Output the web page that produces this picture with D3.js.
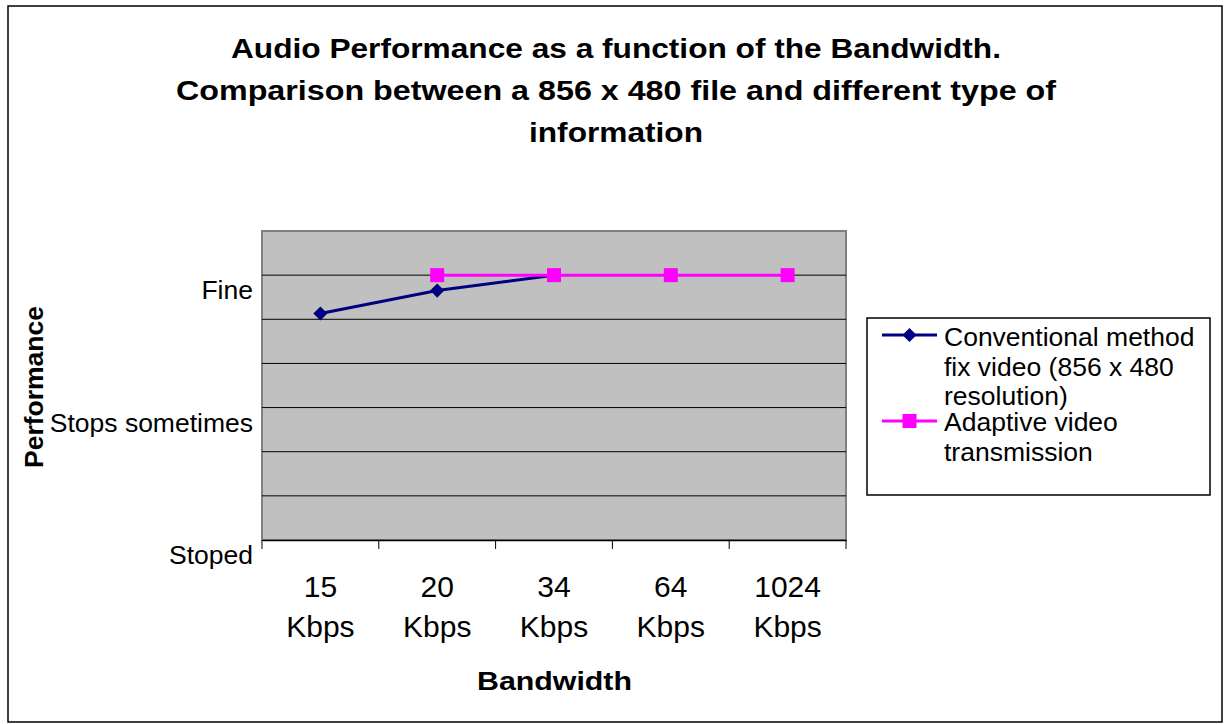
<!DOCTYPE html>
<html>
<head>
<meta charset="utf-8">
<script src="https://cdn.jsdelivr.net/npm/d3@7"></script>
<style>
  html, body { margin: 0; padding: 0; background: #fff; }
  svg { display: block; font-family: "Liberation Sans", Arial, sans-serif; }
</style>
</head>
<body>
<svg id="chart" width="1225" height="724"></svg>
<script>
// Bandwidth categories along the x axis (two-line labels)
const categories = ["15 Kbps", "20 Kbps", "34 Kbps", "64 Kbps", "1024 Kbps"];
// Performance level per category (0 = Stoped, 3 = Stops sometimes, 6 = Fine)
const conventional = [5.13, 5.65, 6, null, null];
const adaptive = [null, 6, 6, 6, 6];
// Qualitative labels on the value axis
const yTickValues = [0, 3, 6];
const yTickLabels = ["Stoped", "Stops sometimes", "Fine"];
const titleLines = [
  "Audio Performance as a function of the Bandwidth.",
  "Comparison between a 856 x 480 file and different type of",
  "information"
];
const titleWidths = [770, 880, 174];
const seriesNames = [
  ["Conventional method", "fix video (856 x 480", "resolution)"],
  ["Adaptive video", "transmission"]
];

const svg = d3.select("#chart");

// outer chart frame
svg.append("rect")
  .attr("x", 8).attr("y", 6).attr("width", 1214).attr("height", 716)
  .attr("fill", "#fff").attr("stroke", "#000").attr("stroke-width", 1.5);

const plot = { left: 262, right: 846, top: 231, bottom: 540 };

const x = d3.scaleBand().domain(categories).range([plot.left, plot.right]);
const y = d3.scaleLinear().domain([0, 7]).range([plot.bottom, plot.top]);

// plot area background
svg.append("rect")
  .attr("x", plot.left).attr("y", plot.top)
  .attr("width", plot.right - plot.left).attr("height", plot.bottom - plot.top)
  .attr("fill", "#c0c0c0").attr("stroke", "#808080").attr("stroke-width", 2);

// horizontal gridlines
svg.append("g")
  .selectAll("line")
  .data(d3.range(1, 7))
  .join("line")
  .attr("x1", plot.left).attr("x2", plot.right)
  .attr("y1", d => y(d)).attr("y2", d => y(d))
  .attr("stroke", "#000").attr("stroke-width", 1);

// category axis
const xAxis = d3.axisBottom(x).tickSize(0).tickFormat("");
const gx = svg.append("g").attr("transform", `translate(0,${plot.bottom})`).call(xAxis);
gx.select(".domain").attr("stroke", "#000").attr("stroke-width", 1.5);
// tick marks at band boundaries
gx.selectAll(".bound")
  .data(d3.range(categories.length + 1))
  .join("line")
  .attr("class", "bound")
  .attr("x1", i => plot.left + i * x.step()).attr("x2", i => plot.left + i * x.step())
  .attr("y1", 0).attr("y2", 9)
  .attr("stroke", "#000").attr("stroke-width", 1);

// category labels (value on first line, unit on second)
const xl = svg.append("g").attr("font-size", 30).attr("text-anchor", "middle").attr("fill", "#000");
categories.forEach(c => {
  const [num, unit] = c.split(" ");
  const cxv = x(c) + x.bandwidth() / 2;
  const t = xl.append("text").attr("x", cxv).attr("y", 597);
  t.append("tspan").attr("x", cxv).text(num);
  t.append("tspan").attr("x", cxv).attr("dy", 40).text(unit);
});

// value axis labels
svg.append("g")
  .selectAll("text")
  .data(yTickValues)
  .join("text")
  .attr("x", 253)
  .attr("y", d => y(d) + 24)
  .attr("text-anchor", "end")
  .attr("font-size", 26.5)
  .text((d, i) => yTickLabels[i]);

// title
svg.append("g")
  .selectAll("text")
  .data(titleLines)
  .join("text")
  .attr("x", 616)
  .attr("y", (d, i) => 58 + i * 42)
  .attr("text-anchor", "middle")
  .attr("font-size", 28)
  .attr("font-weight", "bold")
  .attr("textLength", (d, i) => titleWidths[i])
  .attr("lengthAdjust", "spacingAndGlyphs")
  .text(d => d);

// axis titles
svg.append("text")
  .attr("x", 554.5).attr("y", 690)
  .attr("text-anchor", "middle")
  .attr("font-size", 26.5).attr("font-weight", "bold")
  .attr("textLength", 155).attr("lengthAdjust", "spacingAndGlyphs")
  .text("Bandwidth");

svg.append("text")
  .attr("transform", "translate(43,387) rotate(-90)")
  .attr("text-anchor", "middle")
  .attr("font-size", 26.5).attr("font-weight", "bold")
  .text("Performance");

const cx = (d, i) => x(categories[i]) + x.bandwidth() / 2;
const line = d3.line()
  .defined(d => d !== null)
  .x((d, i) => cx(d, i))
  .y(d => y(d));

const diamondPath = d3.symbol().type(d3.symbolSquare).size(100)();

// conventional series
svg.append("path").datum(conventional)
  .attr("d", line).attr("fill", "none")
  .attr("stroke", "#000080").attr("stroke-width", 3);
svg.append("g").selectAll("path")
  .data(conventional.map((v, i) => ({ v, i })).filter(d => d.v !== null))
  .join("path")
  .attr("d", diamondPath)
  .attr("transform", d => `translate(${cx(d.v, d.i)},${y(d.v)}) rotate(45)`)
  .attr("fill", "#000080");

// adaptive series
svg.append("path").datum(adaptive)
  .attr("d", line).attr("fill", "none")
  .attr("stroke", "#ff00ff").attr("stroke-width", 3);
svg.append("g").selectAll("rect")
  .data(adaptive.map((v, i) => ({ v, i })).filter(d => d.v !== null))
  .join("rect")
  .attr("x", d => cx(d.v, d.i) - 7).attr("y", d => y(d.v) - 7)
  .attr("width", 14).attr("height", 14)
  .attr("fill", "#ff00ff");

// legend
const lg = svg.append("g");
lg.append("rect")
  .attr("x", 867).attr("y", 318).attr("width", 343).attr("height", 177)
  .attr("fill", "#fff").attr("stroke", "#000").attr("stroke-width", 1.5);
const legendItems = [
  { color: "#000080", marker: "diamond", ys: 335, lines: seriesNames[0], base: 346 },
  { color: "#ff00ff", marker: "square", ys: 421, lines: seriesNames[1], base: 431 }
];
legendItems.forEach(it => {
  lg.append("line")
    .attr("x1", 882).attr("x2", 937).attr("y1", it.ys).attr("y2", it.ys)
    .attr("stroke", it.color).attr("stroke-width", 3);
  if (it.marker === "diamond") {
    lg.append("path")
      .attr("d", diamondPath)
      .attr("transform", `translate(909.5,${it.ys}) rotate(45)`)
      .attr("fill", it.color);
  } else {
    lg.append("rect")
      .attr("x", 902.5).attr("y", it.ys - 7).attr("width", 14).attr("height", 14)
      .attr("fill", it.color);
  }
  const t = lg.append("text").attr("font-size", 26.5);
  it.lines.forEach((s, k) => {
    t.append("tspan").attr("x", 944).attr("y", it.base + k * 29.5).text(s);
  });
});
</script>
</body>
</html>
